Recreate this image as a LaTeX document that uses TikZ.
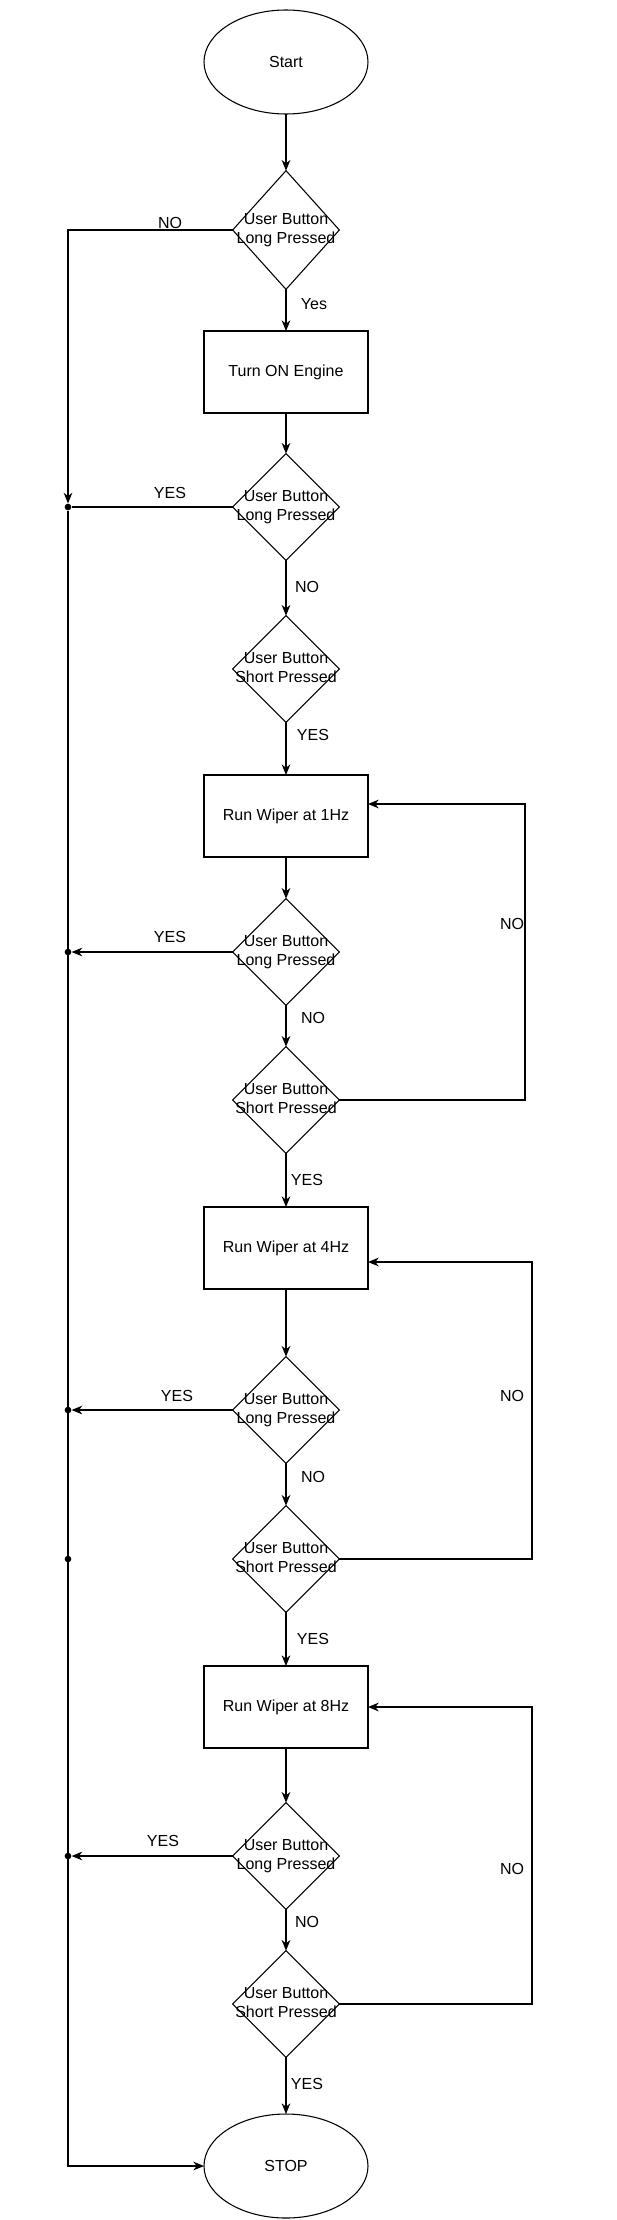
\documentclass[tikz,border=0pt]{standalone}
\usepackage{fontspec}
\setmainfont{Liberation Sans}
\usetikzlibrary{shapes.geometric,arrows.meta}

\newcommand{\twoline}[2]{\makebox[0pt]{\begin{tabular}{@{}c@{}}#1\\#2\end{tabular}}}

\begin{document}
\begin{tikzpicture}[x=0.75pt,y=-0.75pt,
  every node/.style={font=\fontsize{12}{14.4}\selectfont},
  term/.style={ellipse, draw, line width=0.8pt, minimum width=123pt, minimum height=78pt, inner sep=0pt, outer sep=0pt},
  task/.style={rectangle, draw, line width=0.8pt, minimum width=123pt, minimum height=61.5pt, inner sep=0pt, outer sep=0pt},
  ask/.style={diamond, draw, line width=0.8pt, minimum width=80pt, minimum height=80pt, inner sep=0pt, outer sep=0pt},
  arr/.style={-{Stealth[length=8pt,width=6.5pt,inset=2.5pt]}, line width=0.8pt},
  back/.style={arr, line width=1.1pt},
  lbl/.style={inner sep=0pt},
  joint/.style={circle, fill, inner sep=0pt, minimum size=5pt}]
\useasboundingbox (0,0) rectangle (617,2220);
\node[term] (start) at (286,62) {Start};
\node[ask, minimum height=89pt] (q1) at (286,230) {\twoline{User Button}{Long Pressed}};
\node[task] (eng) at (286,372) {Turn ON Engine};
\node[ask] (q2) at (286,507) {\twoline{User Button}{Long Pressed}};
\node[ask] (q3) at (286,669) {\twoline{User Button}{Short Pressed}};
\node[task] (w1) at (286,816) {Run Wiper at 1Hz};
\node[ask] (q4) at (286,952) {\twoline{User Button}{Long Pressed}};
\node[ask] (q5) at (286,1100) {\twoline{User Button}{Short Pressed}};
\node[task] (w4) at (286,1248) {Run Wiper at 4Hz};
\node[ask] (q6) at (286,1410) {\twoline{User Button}{Long Pressed}};
\node[ask] (q7) at (286,1559) {\twoline{User Button}{Short Pressed}};
\node[task] (w8) at (286,1707) {Run Wiper at 8Hz};
\node[ask] (q8) at (286,1856) {\twoline{User Button}{Long Pressed}};
\node[ask] (q9) at (286,2004) {\twoline{User Button}{Short Pressed}};
\node[term] (stop) at (286,2166) {STOP};
% main line down
\foreach \a/\b in {start/q1, q1/eng, eng/q2, q2/q3, q3/w1, w1/q4, q4/q5, q5/w4, w4/q6, q6/q7, q7/w8, w8/q8, q8/q9, q9/stop}
  \draw[arr] (\a) -- (\b);
% left exit line
\coordinate (c0) at (68,230);
\coordinate (c9) at (68,2166);
\foreach \n/\y in {j1/507, j2/952, j3/1410, j4/1559, j5/1856}
  \node[joint] (\n) at (68,\y) {};
\draw[arr] (q1.west) -- (c0) -- (j1);
\draw[line width=0.8pt] (q2.west) -- (j1);
\foreach \a/\b in {q4/j2, q6/j3, q8/j5} \draw[arr] (\a.west) -- (\b);
\draw[arr] (j1) -- (c9) -- (stop.west);
% loops back
\coordinate (r1) at (525,804);
\coordinate (r2) at (532,1262);
\coordinate (r3) at (532,1707);
\draw[back] (q5.east) -| (r1) -- (r1 -| w1.east);
\draw[back] (q7.east) -| (r2) -- (r2 -| w4.east);
\draw[back] (q9.east) -| (r3) -- (r3 -| w8.east);
% labels
\foreach \x/\y/\t [count=\i] in {170/223/NO, 314/304/Yes, 170/493/YES, 307/587/NO, 313/735/YES,
  170/937/YES, 512/924/NO, 313/1018/NO, 307/1180/YES, 177/1396/YES, 512/1396/NO, 313/1477/NO,
  313/1639/YES, 163/1841/YES, 512/1869/NO, 307/1922/NO, 307/2084/YES}
  \node[lbl] (lb\i) at (\x,\y) {\t};
\end{tikzpicture}
\end{document}
